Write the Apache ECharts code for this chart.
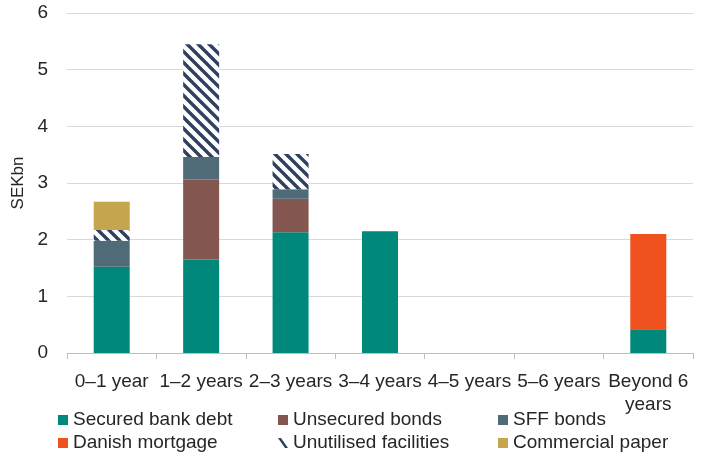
<!DOCTYPE html>
<html>
<head>
<meta charset="utf-8">
<script src="https://cdn.jsdelivr.net/npm/echarts@6/dist/echarts.min.js"></script>
<style>html,body{margin:0;padding:0;background:#fff;}#c{width:704px;height:455px;}</style>
</head>
<body>
<div id="c"></div>
<script>
const categories = ['0–1 year', '1–2 years', '2–3 years', '3–4 years', '4–5 years', '5–6 years', 'Beyond 6 years'];
const securedBankDebt = [1.52, 1.65, 2.13, 2.15, 0, 0, 0.42];
const unsecuredBonds = [0, 1.41, 0.59, 0, 0, 0, 0];
const sffBonds = [0.46, 0.40, 0.17, 0, 0, 0, 0];
const danishMortgage = [0, 0, 0, 0, 0, 0, 1.68];
const unutilisedFacilities = [0.19, 1.99, 0.62, 0, 0, 0, 0];
const commercialPaper = [0.50, 0, 0, 0, 0, 0, 0];
const yTicks = [0, 1, 2, 3, 4, 5, 6];

const NAVY = '#2F4060';
const cv = document.createElement('canvas');
cv.width = 11; cv.height = 11;
const ctx = cv.getContext('2d');
ctx.fillStyle = '#ffffff';
ctx.fillRect(0, 0, 11, 11);
ctx.strokeStyle = NAVY;
ctx.lineWidth = 3.4;
[-11, 0, 11].forEach(c => {
  ctx.beginPath();
  ctx.moveTo(-3, -3 + c);
  ctx.lineTo(14, 14 + c);
  ctx.stroke();
});

const nz = arr => arr.map(v => v === 0 ? '-' : v);
const font = 'Liberation Sans';
const txt = '#262626';

const chart = echarts.init(document.getElementById('c'), null, {renderer: 'canvas'});
function ser(name, data, color) {
  return {name, type: 'bar', stack: 'a', barWidth: 36, data: nz(data), itemStyle: {color}, emphasis: {disabled: true}};
}
const legendCommon = {
  left: 58, orient: 'horizontal', itemWidth: 10, itemHeight: 10, itemGap: 25, padding: 0,
  selectedMode: false,
  textStyle: {fontFamily: font, fontSize: 19, color: txt, width: 180, lineHeight: 22}
};
chart.setOption({
  animation: false,
  grid: {left: 67, right: 11, top: 13, bottom: 102},
  xAxis: {
    type: 'category', data: categories,
    axisLine: {lineStyle: {color: '#BFBFBF'}},
    axisTick: {show: true, length: 6, lineStyle: {color: '#BFBFBF'}},
    axisLabel: {fontFamily: font, fontSize: 19, color: txt, margin: 17, lineHeight: 23, interval: 0,
      formatter: v => v.replace('Beyond 6 ', 'Beyond 6\n')}
  },
  yAxis: {
    type: 'value', min: yTicks[0], max: yTicks[yTicks.length - 1], interval: 1,
    name: 'SEKbn', nameLocation: 'middle', nameRotate: 90, nameGap: 39,
    nameTextStyle: {fontFamily: font, fontSize: 17, color: txt},
    axisLine: {show: false}, axisTick: {show: false},
    splitLine: {lineStyle: {color: '#D9D9D9', width: 1}},
    axisLabel: {fontFamily: font, fontSize: 19, color: txt, margin: 19}
  },
  legend: [
    Object.assign({}, legendCommon, {top: 409, data: [
      {name: 'Secured bank debt', icon: 'rect'},
      {name: 'Unsecured bonds', icon: 'rect'},
      {name: 'SFF bonds', icon: 'rect'}
    ]}),
    Object.assign({}, legendCommon, {top: 432, data: [
      {name: 'Danish mortgage', icon: 'rect'},
      {name: 'Unutilised facilities', icon: 'path://M0,0L3,0L10,10L7,10Z', itemStyle: {color: NAVY}},
      {name: 'Commercial paper', icon: 'rect'}
    ]})
  ],
  series: [
    ser('Secured bank debt', securedBankDebt, '#00897A'),
    ser('Unsecured bonds', unsecuredBonds, '#835750'),
    ser('SFF bonds', sffBonds, '#4E6B77'),
    ser('Danish mortgage', danishMortgage, '#F0521F'),
    ser('Unutilised facilities', unutilisedFacilities, {image: cv, repeat: 'repeat'}),
    ser('Commercial paper', commercialPaper, '#C5A54D')
  ]
});
</script>
</body>
</html>
